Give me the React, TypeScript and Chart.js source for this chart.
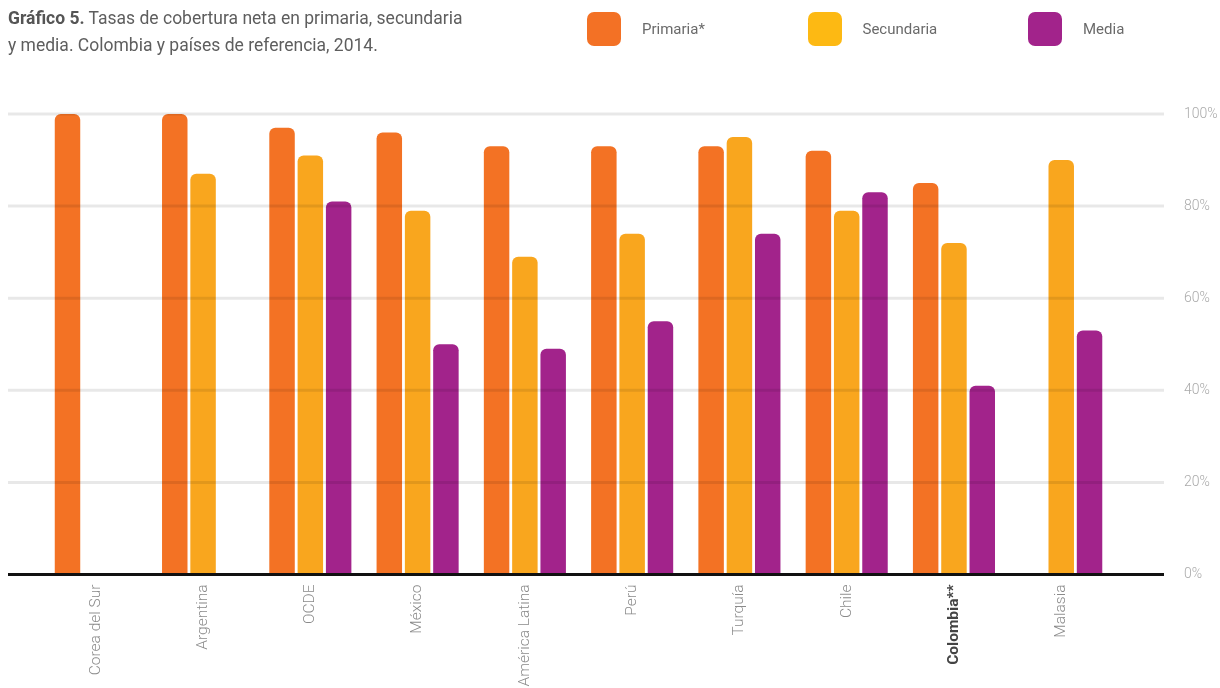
import React, { useEffect, useRef } from "react";
import { Chart, registerables } from "chart.js";

Chart.register(...registerables);

const categories = [
  "Corea del Sur",
  "Argentina",
  "OCDE",
  "México",
  "América Latina",
  "Perú",
  "Turquía",
  "Chile",
  "Colombia**",
  "Malasia",
];
const primaria: (number | null)[] = [100, 100, 97, 96, 93, 93, 93, 92, 85, null];
const secundaria: (number | null)[] = [null, 87, 91, 79, 69, 74, 95, 79, 72, 90];
const media: (number | null)[] = [null, null, 81, 50, 49, 55, 74, 83, 41, 53];
const yTicks = [0, 20, 40, 60, 80, 100];
const seriesNames = ["Primaria*", "Secundaria", "Media"];
const barColors = ["#F37224", "#F9A61E", "#A2238B"];
const legendColors = ["#F37125", "#FDB913", "#A2238B"];
const highlighted = "Colombia**";

const toPoints = (arr: (number | null)[]) => arr.map((v, i) => ({ x: i, y: v }));

const gridOverlay = {
  id: "gridOverlay",
  afterDatasetsDraw(chart: any) {
    const { ctx, chartArea, scales } = chart;
    const y = scales.y;
    ctx.save();
    yTicks.forEach((t) => {
      const py = y.getPixelForValue(t);
      ctx.beginPath();
      if (t === 0) {
        ctx.strokeStyle = "#111111";
        ctx.lineWidth = 3;
      } else {
        ctx.strokeStyle = "rgba(0,0,0,0.09)";
        ctx.lineWidth = 3;
      }
      ctx.moveTo(chartArea.left, py);
      ctx.lineTo(chartArea.right, py);
      ctx.stroke();
    });
    ctx.restore();
  },
};

export default function App() {
  const canvasRef = useRef<HTMLCanvasElement | null>(null);

  useEffect(() => {
    if (!canvasRef.current) return;
    const series = [primaria, secundaria, media];
    const chart = new Chart(canvasRef.current, {
      type: "bar",
      data: {
        datasets: series.map((s, i) => ({
          label: seriesNames[i],
          data: toPoints(s) as any,
          backgroundColor: barColors[i],
          borderWidth: 0,
          borderRadius: { topLeft: 6, topRight: 6, bottomLeft: 0, bottomRight: 0 },
          borderSkipped: "bottom",
          categoryPercentage: 0.7915,
          barPercentage: 0.9,
        })),
      },
      options: {
        responsive: false,
        animation: false,
        layout: { padding: { left: 8, top: 114, right: 0, bottom: 0 } },
        plugins: {
          legend: { display: false },
          tooltip: { enabled: false },
          title: { display: false },
        },
        scales: {
          x: {
            type: "linear",
            min: -0.8185,
            max: 9.958,
            offset: false,
            grid: { display: false, drawTicks: false },
            border: { display: false },
            afterFit: (scale: any) => {
              scale.height = 113.5;
            },
            ticks: {
              stepSize: 1,
              includeBounds: false,
              autoSkip: false,
              minRotation: 90,
              maxRotation: 90,
              padding: 10,
              callback: (v: any) =>
                Number.isInteger(v) && categories[v] !== undefined ? categories[v] : "",
              color: (ctx: any) =>
                categories[ctx.tick?.value] === highlighted ? "#444444" : "#8a8a8a",
              font: (ctx: any) =>
                categories[ctx.tick?.value] === highlighted
                  ? { family: "Roboto", size: 15.5, weight: "bold" }
                  : { family: "Roboto", size: 15.5, weight: "300" },
            },
          } as any,
          y: {
            position: "right",
            min: 0,
            max: 100,
            grid: { display: false, drawTicks: false },
            border: { display: false },
            afterFit: (scale: any) => {
              scale.width = 56;
            },
            ticks: {
              stepSize: 20,
              padding: 20,
              color: "#aaaaaa",
              font: { family: "Roboto", size: 14, weight: "300" },
              callback: (v: any) => `${v}%`,
            },
          } as any,
        },
      },
      plugins: [gridOverlay],
    });
    return () => chart.destroy();
  }, []);

  return (
    <div
      style={{
        position: "fixed",
        left: 0,
        top: 0,
        width: 1220,
        height: 688,
        background: "#ffffff",
        fontFamily: "Roboto, sans-serif",
      }}
    >
      <canvas
        ref={canvasRef}
        width={1220}
        height={688}
        style={{ position: "absolute", left: 0, top: 0, display: "block" }}
      />
      <div
        style={{
          position: "absolute",
          left: 8,
          top: 5,
          fontSize: 17.5,
          lineHeight: "27px",
          color: "#5e5e5e",
        }}
      >
        <b style={{ color: "#555555" }}>Gráfico 5.</b> Tasas de cobertura neta en primaria, secundaria
        <br />y media. Colombia y países de referencia, 2014.
      </div>
      {seriesNames.map((name, i) => (
        <div
          key={name}
          style={{
            position: "absolute",
            left: 587 + i * 220.5,
            top: 12,
            height: 34,
            display: "flex",
            alignItems: "center",
          }}
        >
          <div
            style={{
              width: 34,
              height: 34,
              borderRadius: 7,
              background: legendColors[i],
            }}
          />
          <span style={{ marginLeft: 21, fontSize: 15, color: "#6a6a6a" }}>{name}</span>
        </div>
      ))}
    </div>
  );
}
